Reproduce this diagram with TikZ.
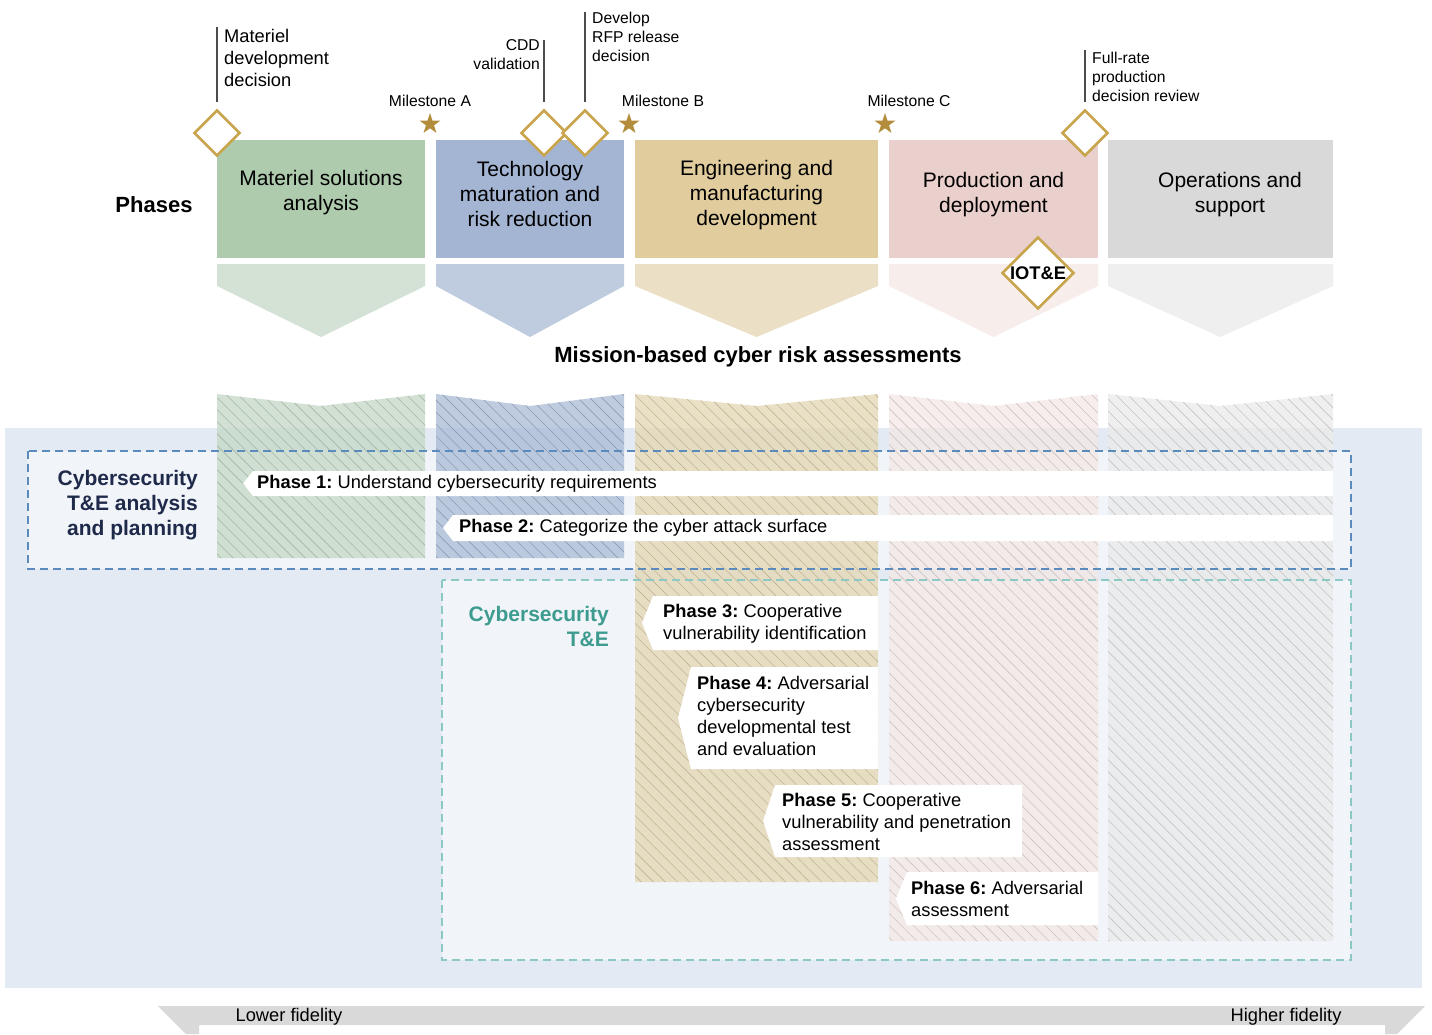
\documentclass[tikz,border=0pt]{standalone}
\usepackage{fontspec}
\setmainfont{Liberation Sans}
\usetikzlibrary{shapes.geometric,patterns.meta}

\definecolor{grnD}{HTML}{AFCBAE}
\definecolor{grnL}{HTML}{D3E2D4}
\definecolor{grnC}{HTML}{C4D8C6}
\definecolor{bluD}{HTML}{A3B5D3}
\definecolor{bluL}{HTML}{BFCCE0}
\definecolor{bluC}{HTML}{AABBD6}
\definecolor{tanD}{HTML}{E1CC9D}
\definecolor{tanL}{HTML}{EBE0C5}
\definecolor{tanC}{HTML}{E4D6B2}
\definecolor{pnkD}{HTML}{EAD0CC}
\definecolor{pnkL}{HTML}{F7EEEC}
\definecolor{pnkC}{HTML}{F4E8E6}
\definecolor{gryD}{HTML}{D9D9D9}
\definecolor{gryL}{HTML}{EFEFEF}
\definecolor{gryC}{HTML}{EAEAEA}
\definecolor{gold}{HTML}{C9A64E}
\definecolor{starc}{HTML}{B38D3C}
\definecolor{bgblue}{HTML}{E3EAF3}
\definecolor{bgin}{HTML}{F1F5F9}
\definecolor{dblue}{HTML}{5B8BBD}
\definecolor{dteal}{HTML}{8CC8C4}
\definecolor{navy}{HTML}{1F2A4B}
\definecolor{teal}{HTML}{3D9B8F}

%% chevron below a phase box: left, right, colour
\newcommand{\chev}[3]{\fill[#3] (#1,264) -- (#2,264) -- (#2,286) -- ({(#1+#2)/2},337) -- (#1,286) -- cycle;}
%% hatched column: left, right, colour, bottom
\newcommand{\hcol}[4]{%
  \fill[#3, fill opacity=0.75] (#1,394) -- ({(#1+#2)/2},406) -- (#2,394) -- (#2,#4) -- (#1,#4) -- cycle;
  \fill[hatch, pattern color=#3!84!black] (#1,394) -- ({(#1+#2)/2},406) -- (#2,394) -- (#2,#4) -- (#1,#4) -- cycle;}
%% white phase bar: tip, corner, right, top, bottom
\newcommand{\phbar}[5]{\fill[white] (#1,{(#4+#5)/2}) -- (#2,#4) -- (#3,#4) -- (#3,#5) -- (#2,#5) -- cycle;}

\begin{document}
\begin{tikzpicture}[x=1pt,y=-1pt,
  hatch/.style={pattern={Lines[angle=-45,distance=8.5pt,line width=0.6pt]}},
  pbox/.style={inner sep=0pt, minimum height=118pt},
  ptxt/.style={align=center, inner sep=0pt, font=\fontsize{21}{25}\selectfont},
  ms/.style={diamond, aspect=1, draw=gold, fill=white, line width=2.6pt,
    inner sep=0pt, minimum size=46pt},
  mstar/.style={star, star points=5, star point ratio=2.6, fill=starc,
    inner sep=0pt, minimum size=22pt},
  small/.style={inner sep=0pt, font=\fontsize{15.7}{19}\selectfont},
  tick/.style={draw=black!70, line width=1.2pt, shorten >=7pt},
  btxt/.style={anchor=west, align=left, inner sep=0pt,
    font=\fontsize{18.3}{22}\selectfont},
  boxdash/.style={line width=2.2pt, dash pattern=on 8pt off 5pt},
  big/.style={align=right, inner sep=0pt, font=\bfseries\fontsize{21}{25}\selectfont}]

  \useasboundingbox (0,0) rectangle (1432,1034);
  \fill[white] (0,0) rectangle (1432,1034);

  %% Phases
  \node[pbox, fill=grnD, minimum width=208pt] (msa) at (321,199) {};
  \node[pbox, fill=bluD, minimum width=188pt] (tmr) at (530,199) {};
  \node[pbox, fill=tanD, minimum width=243pt] (emd) at (756.5,199) {};
  \node[pbox, fill=pnkD, minimum width=209pt] (pd)  at (993.5,199) {};
  \node[pbox, fill=gryD, minimum width=225pt] (os)  at (1220.5,199) {};
  \node[ptxt] (msat) at ([yshift=6pt]msa.center) {Materiel solutions\\analysis};
  \node[ptxt] (tmrt) at ([yshift=5pt]tmr.center) {Technology\\maturation and\\risk reduction};
  \node[ptxt] (emdt) at ([yshift=4pt]emd.center) {Engineering and\\manufacturing\\development};
  \node[ptxt] (pdt)  at ([yshift=4pt]pd.center)  {Production and\\deployment};
  \node[ptxt] (ost)  at (1230,195) {Operations and\\support};
  \node[inner sep=0pt, font=\bfseries\fontsize{22}{26}\selectfont] (phases) at (154,205) {Phases};

  \chev{217}{425}{grnL}
  \chev{436}{624}{bluL}
  \chev{635}{878}{tanL}
  \chev{889}{1098}{pnkL}
  \chev{1108}{1333}{gryL}
  \node[inner sep=0pt, font=\bfseries\fontsize{22}{26}\selectfont] (mission) at (758,357)
    {Mission-based cyber risk assessments};

  %% Cybersecurity T&E area
  \fill[bgblue] (5,428) rectangle (1422,988);
  \fill[bgin] (28,451) rectangle (1351,569);
  \fill[bgin] (442,580) rectangle (1351,960);
  \hcol{217}{425}{grnC}{558}
  \hcol{436}{624}{bluC}{558}
  \hcol{635}{878}{tanC}{882}
  \hcol{889}{1098}{pnkC}{941}
  \hcol{1108}{1333}{gryC}{941}
  \draw[boxdash, dblue] (28,451) rectangle (1351,569);
  \draw[boxdash, dteal] (442,580) rectangle (1351,960);

  \node[big, navy, anchor=east] (plan) at (198,505) {Cybersecurity\\T\&E analysis\\and planning};
  \node[big, teal, anchor=east] (cte) at (609,626) {Cybersecurity\\T\&E};

  \phbar{243}{253}{1333}{471}{496}
  \phbar{443}{453}{1333}{515}{541}
  \phbar{642}{653}{878}{596}{650}
  \phbar{678}{691}{878}{667}{769}
  \phbar{763}{775}{1022}{785}{857}
  \phbar{896}{907}{1098}{872}{925}
  \node[btxt] (p1) at (257,484) {\textbf{Phase 1:}~Understand cybersecurity requirements};
  \node[btxt] (p2) at (459,528) {\textbf{Phase 2:}~Categorize the cyber attack surface};
  \node[btxt] (p3) at (663,624) {\textbf{Phase 3:}~Cooperative\\vulnerability identification};
  \node[btxt] (p4) at (697,716) {\textbf{Phase 4:}~Adversarial\\cybersecurity\\developmental test\\and evaluation};
  \node[btxt] (p5) at (782,822) {\textbf{Phase 5:}~Cooperative\\vulnerability and penetration\\assessment};
  \node[btxt] (p6) at (911,899) {\textbf{Phase 6:}~Adversarial\\assessment};

  %% Milestones and decisions
  \node[mstar] (msA) at (430,124) {};
  \node[mstar] (msB) at (629,124) {};
  \node[mstar] (msC) at (885,124) {};
  \node[small] (msAt) at (430,101) {Milestone A};
  \node[small] (msBt) at (663,101) {Milestone B};
  \node[small] (msCt) at (909,101) {Milestone C};

  \node[ms] (mdd) at (217,133) {};
  \node[ms] (cdd) at (544,133) {};
  \node[ms] (rfp) at (585,133) {};
  \node[ms] (frp) at (1085,133) {};
  \coordinate (mddtop) at (217,27);
  \coordinate (cddtop) at (544,40);
  \coordinate (rfptop) at (585,12);
  \coordinate (frptop) at (1085,50);
  \draw[tick] (mddtop) -- (mdd.north);
  \draw[tick] (cddtop) -- (cdd.north);
  \draw[tick] (rfptop) -- (rfp.north);
  \draw[tick] (frptop) -- (frp.north);
  \node[anchor=west, align=left, inner sep=0pt, font=\fontsize{18.3}{22}\selectfont]
    (mddt) at (224,58) {Materiel\\development\\decision};
  \node[small, anchor=east, align=right] (cddt) at (540,55) {CDD\\validation};
  \node[small, anchor=west, align=left] (rfpt) at (592,37) {Develop\\RFP release\\decision};
  \node[small, anchor=west, align=left] (frpt) at (1092,77) {Full-rate\\production\\decision review};

  \node[ms, minimum size=72pt] (iote) at (1038,273) {};
  \node[inner sep=0pt, font=\bfseries\fontsize{18.3}{22}\selectfont] (iotet) at (iote) {IOT\&E};

  %% Fidelity
  \fill[gryD] (158,1006) -- (1425,1006) -- (1397,1034) -- (1385,1034) -- (1385,1025)
    -- (199,1025) -- (199,1034) -- (186,1034) -- cycle;
  \node[inner sep=0pt, font=\fontsize{18.3}{22}\selectfont] (lofi) at (289,1017) {Lower fidelity};
  \node[inner sep=0pt, font=\fontsize{18.3}{22}\selectfont] (hifi) at (1286,1017) {Higher fidelity};

\end{tikzpicture}
\end{document}
